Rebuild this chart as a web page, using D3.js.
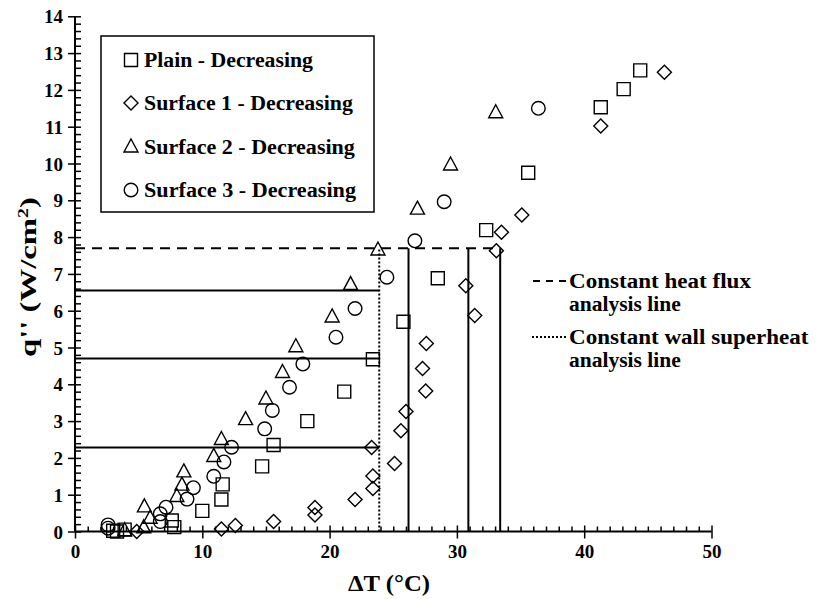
<!DOCTYPE html>
<html lang="en">
<head>
    <meta charset="UTF-8">
    <title>Boiling curves - decreasing heat flux</title>
    <script src="https://d3js.org/d3.v7.min.js"></script>
    <style>
        body { margin: 0; background: #fff; }
        text { font-family: "Liberation Serif", "Times New Roman", serif; font-weight: bold; fill: #000; }
        .mark { fill: none; stroke: #000; stroke-width: 1.4px; }
    </style>
</head>
<body>
    <svg width="819" height="599"></svg>
    <script>
        // data: [dT (C), q'' (W/cm2)]
        const plain = [[3.0,0.02],[3.3,0.0],[3.9,0.05],[7.6,0.3],[7.8,0.12],[10.0,0.56],[11.5,0.87],[11.6,1.28],
            [14.7,1.77],[15.6,2.35],[18.25,3.0],[21.15,3.8],[23.4,4.68],[25.8,5.7],[28.5,6.88],[32.3,8.19],
            [35.6,9.75],[41.3,11.53],[43.1,12.02],[44.4,12.53]];
        const surface1 = [[4.85,0.0],[11.5,0.07],[12.6,0.16],[15.6,0.27],[18.85,0.45],[18.85,0.65],[22.0,0.87],
            [23.4,1.17],[23.4,1.51],[23.3,2.28],[25.1,1.85],[25.6,2.74],[26.0,3.26],[27.55,3.82],[27.3,4.43],
            [27.6,5.11],[31.4,5.87],[30.7,6.68],[33.1,7.63],[33.5,8.13],[35.1,8.6],[41.3,11.02],[46.3,12.48]];
        const surface2 = [[3.9,0.02],[5.4,0.1],[5.9,0.36],[5.45,0.67],[8.0,0.95],[8.4,1.26],[8.55,1.62],[10.9,2.04],
            [11.5,2.5],[13.4,3.04],[15.0,3.6],[16.3,4.32],[17.35,5.02],[20.2,5.83],[21.65,6.71],[23.8,7.65],
            [26.9,8.76],[29.5,9.96],[33.05,11.38]];
        const surface3 = [[2.6,0.18],[2.6,0.09],[6.7,0.48],[6.7,0.27],[7.15,0.66],[8.8,0.88],[9.3,1.19],[10.9,1.5],
            [11.7,1.89],[12.3,2.29],[14.9,2.79],[15.5,3.29],[16.85,3.92],[17.9,4.55],[20.5,5.28],[22.0,6.06],
            [24.5,6.91],[26.7,7.9],[29.0,8.96],[36.4,11.5]];

        const seriesNames = ['Plain - Decreasing', 'Surface 1 - Decreasing', 'Surface 2 - Decreasing', 'Surface 3 - Decreasing'];
        const seriesShapes = ['square', 'diamond', 'triangle', 'circle'];

        // analysis lines
        const fluxLevel = 7.7;                 // constant heat flux line
        const fluxCrossings = [26.2, 30.9, 33.4];
        const superheatLevel = 23.9;           // constant wall superheat line
        const superheatCrossings = [6.55, 4.7, 2.28];

        const xTicks = [0, 10, 20, 30, 40, 50];
        const yTicks = d3.range(0, 15, 1);

        const svg = d3.select('svg');
        const x = d3.scaleLinear().domain([0, 50]).range([75, 711.5]);
        const y = d3.scaleLinear().domain([0, 14]).range([531.5, 16.3]);

        // text stretched along its baseline to a given width (the source print is wide)
        function wideText(parent, px, py, width, size, anchor, rotate) {
            const g = parent.append('g').attr('transform', `translate(${px},${py})${rotate ? ' rotate(-90)' : ''}`);
            const inner = g.append('g');
            const t = inner.append('text').attr('text-anchor', anchor || 'start').style('font-size', size + 'px');
            return { t, fit() { const w = t.node().getBBox().width; inner.attr('transform', `scale(${width / w},1)`); } };
        }

        // symbol drawing
        function drawShape(g, shape) {
            const s = 6.5;
            if (shape === 'circle') {
                g.append('circle').attr('class', 'mark').attr('r', 6.8);
                return;
            }
            let d;
            if (shape === 'square') d = `M${-s},${-s}H${s}V${s}H${-s}Z`;
            else if (shape === 'diamond') d = 'M0,-7L7,0L0,7L-7,0Z';
            else d = 'M0,-8L7,5L-7,5Z';
            g.append('path').attr('class', 'mark').attr('d', d);
        }

        // axes
        const xAxis = svg.append('g').attr('transform', `translate(0,${y(0)})`);
        xAxis.call(d3.axisBottom(x).tickValues(d3.range(0, 51, 1)).tickSize(0).tickFormat(''));
        xAxis.select('.domain').remove();
        xAxis.append('line').attr('x1', x(0)).attr('x2', x(50)).attr('stroke', '#000').attr('stroke-width', 2);
        xAxis.selectAll('.tick line').remove();
        xAxis.selectAll('.tick').append('line')
            .attr('y1', d => d % 10 === 0 ? 7 : 0).attr('y2', d => d % 10 === 0 ? -6 : -5)
            .attr('stroke', '#000').attr('stroke-width', 1.5);
        xAxis.selectAll('.tick').filter(d => xTicks.includes(d)).append('text')
            .attr('y', 26).attr('text-anchor', 'middle').style('font-size', '19px').text(d => d);

        const yAxis = svg.append('g').attr('transform', `translate(${x(0)},0)`);
        yAxis.call(d3.axisLeft(y).tickValues(d3.range(0, 14.01, 0.2)).tickSize(0).tickFormat(''));
        yAxis.select('.domain').remove();
        yAxis.append('line').attr('y1', y(0)).attr('y2', y(14)).attr('stroke', '#000').attr('stroke-width', 2);
        yAxis.selectAll('.tick line').remove();
        yAxis.selectAll('.tick').each(function (d) {
            const major = Math.abs(d - Math.round(d)) < 1e-6;
            const t = d3.select(this);
            t.append('line').attr('x1', major ? -7 : 0).attr('x2', 6)
                .attr('stroke', '#000').attr('stroke-width', 1.5);
            if (major && yTicks.includes(Math.round(d))) {
                t.append('text').attr('x', -12).attr('dy', '0.35em').attr('text-anchor', 'end')
                    .style('font-size', '19px').text(Math.round(d));
            }
        });

        // axis titles
        const xt = wideText(svg, 389, 591, 82, 23, 'middle');
        xt.t.text('ΔT (°C)');
        xt.fit();
        const yt = wideText(svg, 36, 277, 160, 23, 'middle', true);
        yt.t.append('tspan').text("q'' (W/cm");
        yt.t.append('tspan').attr('dy', -8).style('font-size', '14px').text('2');
        yt.t.append('tspan').attr('dy', 8).text(')');
        yt.fit();

        // analysis lines
        const lines = svg.append('g').attr('stroke', '#000').attr('fill', 'none');
        lines.append('line').attr('x1', x(0)).attr('x2', x(d3.max(fluxCrossings)))
            .attr('y1', y(fluxLevel)).attr('y2', y(fluxLevel))
            .attr('stroke-width', 2).attr('stroke-dasharray', '10,7');
        lines.selectAll('.vflux').data(fluxCrossings).enter().append('line')
            .attr('x1', d => x(d)).attr('x2', d => x(d)).attr('y1', y(0)).attr('y2', y(fluxLevel))
            .attr('stroke-width', 2);
        lines.append('line').attr('x1', x(superheatLevel)).attr('x2', x(superheatLevel))
            .attr('y1', y(0)).attr('y2', y(fluxLevel))
            .attr('stroke-width', 2).attr('stroke-dasharray', '2,2');
        lines.selectAll('.hsup').data(superheatCrossings).enter().append('line')
            .attr('x1', x(0)).attr('x2', x(superheatLevel)).attr('y1', d => y(d)).attr('y2', d => y(d))
            .attr('stroke-width', 2);

        // scatter points
        [plain, surface1, surface2, surface3].forEach((data, i) => {
            svg.append('g').selectAll('g').data(data).enter().append('g')
                .attr('transform', d => `translate(${x(d[0])},${y(d[1])})`)
                .each(function () { drawShape(d3.select(this), seriesShapes[i]); });
        });

        // legend box
        const legend = svg.append('g');
        legend.append('rect').attr('x', 101).attr('y', 36).attr('width', 273).attr('height', 176)
            .attr('fill', '#fff').attr('stroke', '#000').attr('stroke-width', 1.5);
        const legendY = [60, 103, 147, 190];
        const legendW = [169, 209, 211, 212];
        seriesNames.forEach((name, i) => {
            const row = legend.append('g').attr('transform', `translate(131,${legendY[i]})`);
            drawShape(row.append('g'), seriesShapes[i]);
            const lt = wideText(row, 13, 7, legendW[i], 20, 'start');
            lt.t.text(name);
            lt.fit();
        });

        // analysis line legend
        const al = svg.append('g');
        al.append('line').attr('x1', 533).attr('x2', 567).attr('y1', 281).attr('y2', 281)
            .attr('stroke', '#000').attr('stroke-width', 2).attr('stroke-dasharray', '7,6');
        al.append('line').attr('x1', 532).attr('x2', 567).attr('y1', 337).attr('y2', 337)
            .attr('stroke', '#000').attr('stroke-width', 2).attr('stroke-dasharray', '2,2');
        [['Constant heat flux', 281, 182], ['analysis line', 304, 112],
         ['Constant wall superheat', 337, 240], ['analysis line', 360, 112]]
            .forEach(([s, yy, w]) => {
                const rt = wideText(al, 569, yy + 7, w, 20, 'start');
                rt.t.text(s);
                rt.fit();
            });
    </script>
</body>
</html>
